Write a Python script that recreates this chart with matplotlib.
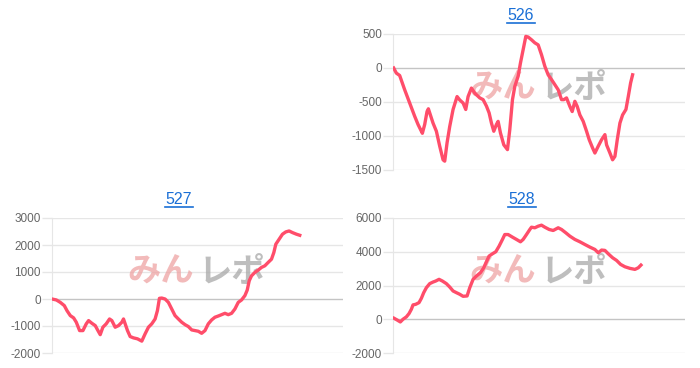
import matplotlib.pyplot as plt
from matplotlib.lines import Line2D

plt.rcParams['font.family'] = ['Liberation Sans', 'DejaVu Sans']

# 526 : x = game position (arbitrary units), y = difference
x526 = [2, 10, 20, 35, 50, 65, 75, 85, 88, 95, 102, 106, 112, 120, 130, 140, 150, 155,
        162, 170, 180, 192, 200, 210, 218, 225, 235, 245, 260, 270, 280, 288, 295, 302,
        310, 315, 322, 332, 343, 350, 358, 365, 375, 382, 390, 398, 405, 415, 425, 435,
        445, 455, 465, 475, 485, 495, 505, 512, 520, 530, 537, 545, 552, 560, 570, 580,
        588, 598, 605, 615, 625, 635, 640, 650, 658, 665, 672, 680, 688, 698, 705, 712,
        718]
y526 = [0, -75, -110, -320, -515, -710, -830, -930, -960, -830, -640, -600, -690, -810,
        -930, -1150, -1350, -1370, -1100, -860, -610, -420, -470, -515, -610, -420, -295,
        -370, -440, -465, -560, -660, -810, -930, -830, -785, -955, -1130, -1200, -905,
        -465, -270, -120, 75, 270, 465, 455, 415, 370, 340, 195, 25, -100, -170, -245,
        -320, -465, -465, -440, -565, -640, -490, -565, -690, -785, -930, -1055, -1175,
        -1250, -1150, -1055, -980, -1130, -1250, -1350, -1300, -1055, -810, -690, -610,
        -420, -220, -100]

x527 = [0, 13, 25, 37, 45, 55, 65, 73, 83, 93, 103, 110, 120, 130, 137, 145, 153, 163,
        173, 180, 190, 200, 210, 215, 220, 227, 235, 245, 257, 270, 280, 290, 300, 310,
        317, 323, 330, 340, 350, 360, 370, 380, 390, 400, 410, 420, 430, 440, 450, 460,
        470, 480, 490, 500, 510, 520, 530, 540, 550, 560, 570, 580, 587, 593, 600, 610,
        620, 630, 640, 650, 660, 667, 673, 683, 693, 703, 713, 723, 735, 745]
y527 = [0, -35, -125, -245, -430, -615, -700, -860, -1170, -1170, -920, -800, -900, -985,
        -1145, -1320, -1045, -920, -740, -800, -1045, -985, -860, -740, -920, -1170,
        -1390, -1440, -1475, -1560, -1290, -1045, -920, -740, -430, 25, 35, 0, -125,
        -370, -615, -740, -860, -950, -1020, -1145, -1170, -1195, -1270, -1170, -920,
        -775, -675, -630, -580, -530, -580, -530, -370, -125, -35, 125, 330, 675, 860,
        985, 1070, 1170, 1230, 1355, 1475, 1720, 2030, 2215, 2400, 2485, 2520, 2460,
        2400, 2360]

x528 = [3, 12, 22, 30, 40, 48, 55, 60, 68, 78, 85, 92, 100, 110, 120, 128, 138, 148,
        160, 170, 180, 190, 200, 210, 222, 230, 240, 250, 262, 272, 280, 288, 298, 308,
        318, 328, 335, 345, 358, 370, 382, 390, 400, 410, 415, 425, 435, 445, 455, 468,
        480, 495, 505, 518, 530, 545, 560, 575, 590, 605, 615, 625, 635, 645, 658, 670,
        682, 695, 710, 725, 735, 743]
y528 = [60, -40, -160, 0, 140, 335, 590, 850, 885, 985, 1240, 1575, 1870, 2110, 2205,
        2265, 2365, 2265, 2110, 1910, 1675, 1575, 1480, 1360, 1380, 1870, 2365, 2560,
        2760, 3050, 3410, 3745, 3880, 4000, 4335, 4730, 5020, 5020, 4865, 4730, 4590,
        4730, 5020, 5320, 5455, 5420, 5515, 5575, 5455, 5320, 5260, 5420, 5320, 5120,
        4925, 4730, 4590, 4430, 4275, 4135, 3940, 4100, 4080, 3880, 3645, 3485, 3250,
        3110, 3015, 2955, 3050, 3210]

titles = ['526', '527', '528']
yticks = [[-1500, -1000, -500, 0, 500],
          [-2000, -1000, 0, 1000, 2000, 3000],
          [-2000, 0, 2000, 4000, 6000]]

line_color = '#ff4d6a'
grid_color = '#e6e6e6'
zero_color = '#c4c4c4'
link_color = '#1a6fd6'

fig = plt.figure(figsize=(7, 3.68), dpi=100)

W, H = 700, 368
boxes = [(393, 34, 292, 136), (52, 218, 291, 135), (393, 218, 292, 135)]
title_pos = [(521, 16), (179, 200), (522, 200)]
series = [(x526, y526), (x527, y527), (x528, y528)]

for (l, t, w, h), (xs, ys), ticks, title, (tx, ty) in zip(boxes, series, yticks, titles, title_pos):
    ax = fig.add_axes([l / W, 1 - (t + h) / H, w / W, h / H])
    ax.plot(xs, ys, color=line_color, lw=2.4, solid_joinstyle='round', zorder=3)
    ax.set_xlim(0, 875)
    ax.set_ylim(ticks[0], ticks[-1])
    ax.set_yticks(ticks)
    ax.set_yticklabels([str(v) for v in ticks])
    ax.set_xticks([])
    ax.tick_params(axis='y', length=7, width=1, color=grid_color, pad=1,
                   labelsize=8.5, labelcolor='#666666')
    for tk in ax.yaxis.get_major_ticks():
        if tk.get_loc() == 0:
            tk.tick1line.set_color(zero_color)
    for v in ticks:
        ax.axhline(v, color=zero_color if v == 0 else grid_color, lw=1, zorder=1)
    for s in ['top', 'right', 'bottom']:
        ax.spines[s].set_visible(False)
    ax.spines['left'].set_color(grid_color)
    ax.spines['left'].set_bounds(ticks[0], ticks[-1])

    # watermark
    ax.text(0.49, 0.6, 'みん', transform=ax.transAxes, ha='right', va='center',
            fontsize=24, fontweight='bold', color='#eea3a3', alpha=0.75,
            family=['Noto Sans CJK JP', 'DejaVu Sans'], zorder=2)
    ax.text(0.505, 0.6, 'レポ', transform=ax.transAxes, ha='left', va='center',
            fontsize=24, fontweight='bold', color='#a8a8a8', alpha=0.75,
            family=['Noto Sans CJK JP', 'DejaVu Sans'], zorder=2)

    fig.text(tx / W, 1 - ty / H, title, ha='center', va='center', fontsize=11.5,
             color=link_color)
    fig.add_artist(Line2D([(tx - 14) / W, (tx + 14) / W], [1 - (ty + 7) / H] * 2,
                          color=link_color, lw=1.2))

fig.savefig('out.png', dpi=100)
